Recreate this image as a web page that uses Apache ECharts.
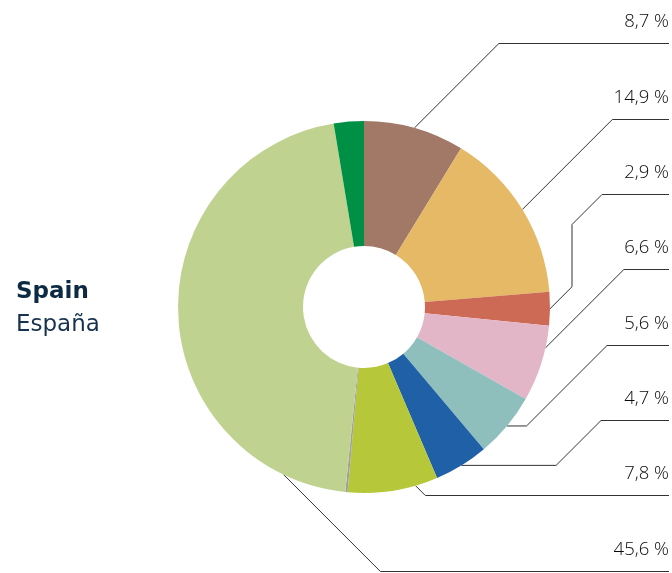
<!DOCTYPE html>
<html>
<head>
<meta charset="utf-8">
<script src="https://cdn.jsdelivr.net/npm/echarts@6/dist/echarts.min.js"></script>
<style>
  html, body { margin: 0; padding: 0; background: #ffffff; }
  #chart { width: 672px; height: 573px; }
</style>
</head>
<body>
<div id="chart"></div>
<script>
// ---- data ----
const categories = ['Segment 1', 'Segment 2', 'Segment 3', 'Segment 4', 'Segment 5',
                    'Segment 6', 'Segment 7', 'Segment 8', 'Segment 9', 'Segment 10'];
const values = [8.7, 14.9, 2.9, 6.6, 5.6, 4.7, 7.8, 0.2, 45.6, 2.6];
// row of the printed percentage label (null = no label)
const labelRow = [0, 1, 2, 3, 4, 5, 6, null, 7, null];
const colors = ['#a27967', '#e6b966', '#cc6a55', '#e2b6c6', '#8fbfbd',
                '#2060a6', '#b6c73a', '#a0a0a0', '#c0d290', '#009045'];
const titleMain = 'Spain';
const titleSub = 'España';

// ---- guide-line routing (style) ----
const guides = {
  0: { route: 'diag', frac: 0.5 },
  1: { route: 'diag', frac: 0.5 },
  2: { route: 'step', frac: 0.5, elbowX: 602, jog: 30 },
  3: { route: 'diag', frac: 0.29 },
  4: { route: 'flat', frac: 0.5, elbowX: 607 },
  5: { route: 'flat', frac: 0.5, elbowX: 601 },
  6: { route: 'diag', frac: 0.25 },
  8: { route: 'diag', frac: 0.12 }
};
const END_X = 669;
const ROW0 = 43.3, ROW_STEP = 75.35;

function fmt(v) {
  return v.toFixed(1).replace('.', ',') + ' %';
}

const chart = echarts.init(document.getElementById('chart'), null, { renderer: 'canvas' });

const pieData = values.map((v, i) => ({
  name: categories[i],
  value: v,
  itemStyle: { color: colors[i] },
  label: { show: labelRow[i] != null },
  labelLine: { show: labelRow[i] != null }
}));

const option = {
  animation: false,
  title: {
    text: '{a|' + titleMain + '}\n{b|' + titleSub + '}',
    left: 16,
    top: 276,
    padding: 0,
    textStyle: {
      rich: {
        a: { fontFamily: 'DejaVu Sans', fontWeight: 'bold', fontSize: 23, color: '#0d2a44', lineHeight: 33 },
        b: { fontFamily: 'DejaVu Sans', fontWeight: 'normal', fontSize: 23, color: '#16324e', lineHeight: 33 }
      }
    }
  },
  series: [{
    type: 'pie',
    center: [364, 307],
    radius: [61, 186],
    startAngle: 90,
    clockwise: true,
    avoidLabelOverlap: false,
    emphasis: { disabled: true },
    itemStyle: { borderWidth: 0 },
    label: {
      position: 'outside',
      formatter: p => fmt(p.value),
      fontFamily: 'Open Sans',
      fontWeight: 300,
      fontSize: 18.5,
      color: '#0a0a0a'
    },
    labelLine: {
      show: true,
      smooth: false,
      lineStyle: { color: '#333333', width: 1 }
    },
    labelLayout: function (p) {
      const i = p.dataIndex;
      const row = labelRow[i];
      if (row == null) return {};
      const g = guides[i] || { route: 'diag', frac: 0.5 };
      const lineY = Math.round(ROW0 + ROW_STEP * row) + 0.5;
      let ax, ay;
      try {
        const lay = chart.getModel().getSeriesByIndex(0).getData().getItemLayout(i);
        const a = lay.startAngle + g.frac * (lay.endAngle - lay.startAngle);
        ax = lay.cx + lay.r * Math.cos(a);
        ay = lay.cy + lay.r * Math.sin(a);
      } catch (e) {
        ax = p.labelLinePoints[0][0];
        ay = p.labelLinePoints[0][1];
      }
      const pts = [[ax, ay]];
      if (g.route === 'diag') {
        pts.push([ax + Math.abs(lineY - ay), lineY]);
      } else if (g.route === 'flat') {
        const d = Math.abs(ay - lineY);
        pts.push([g.elbowX - d, ay]);
        pts.push([g.elbowX, lineY]);
      } else if (g.route === 'step') {
        const sx = g.elbowX - g.jog;
        const sy = ay - (sx - ax);
        pts.push([sx, sy]);
        pts.push([sx, lineY + g.jog]);
        pts.push([g.elbowX, lineY]);
      }
      pts.push([END_X, lineY]);
      return {
        x: END_X,
        y: lineY - 21.6,
        align: 'right',
        verticalAlign: 'middle',
        labelLinePoints: pts
      };
    },
    data: pieData
  }]
};

chart.setOption(option);
</script>
</body>
</html>
